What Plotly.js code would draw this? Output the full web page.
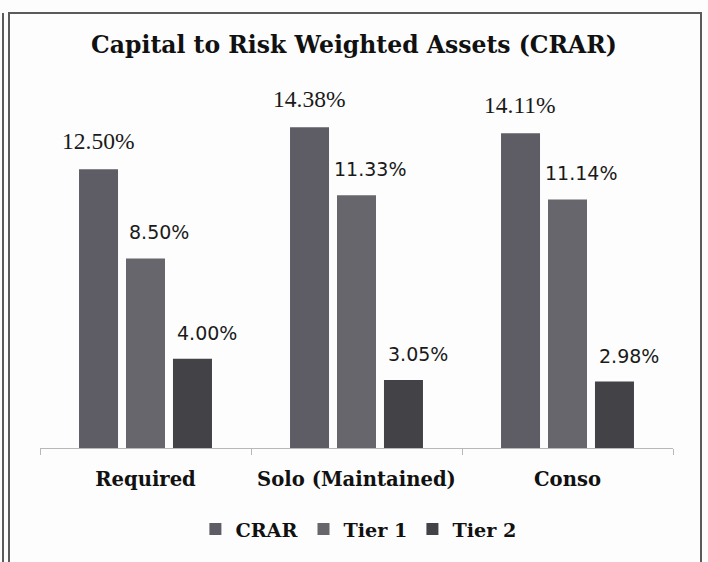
<!DOCTYPE html>
<html>
<head>
<meta charset="utf-8">
<script src="https://cdn.plot.ly/plotly-3.0.1.min.js"></script>
<style>
  html, body { margin: 0; padding: 0; background: #fdfdfd; }
  #wrap { position: relative; width: 708px; height: 562px; overflow: hidden; }
  #chart { position: absolute; left: 0; top: 0; width: 708px; height: 562px; }
  .rule { position: absolute; background: #5b5b5b; pointer-events: none; }
</style>
</head>
<body>
<div id="wrap">
  <div id="chart"></div>
  <!-- scanned frame around the chart -->
  <div class="rule" style="left:2px;top:13px;width:2px;height:549px"></div>
  <div class="rule" style="left:8px;top:13px;width:2px;height:549px"></div>
  <div class="rule" style="left:8px;top:12px;width:694px;height:2px"></div>
  <div class="rule" style="left:700px;top:12px;width:2px;height:550px"></div>
</div>
<script>
// CRAR by basis
const categories = ['Required', 'Solo (Maintained)', 'Conso'];
const crar = [12.50, 14.38, 14.11];
const tier1 = [8.50, 11.33, 11.14];
const tier2 = [4.00, 3.05, 2.98];
const seriesNames = ['CRAR', 'Tier 1', 'Tier 2'];

const COLORS = ['#5e5d66', '#66666c', '#434347'];
const SERIF_BOLD = { family: 'DejaVu Serif', weight: 'bold', color: '#111' };
const LABEL_FONTS = [
  { family: 'Liberation Serif', size: 23.5, color: '#1a1a1a' },
  { family: 'DejaVu Sans', size: 19, color: '#1a1a1a' },
  { family: 'DejaVu Sans', size: 19, color: '#1a1a1a' },
];
// horizontal offset of each series' label from the category centre
// (tier labels sit a little right of their bars in the original)
const LABEL_SHIFT = [-48, 13, 61];

const series = [crar, tier1, tier2];

const traces = series.map((values, i) => ({
  type: 'bar',
  name: seriesNames[i],
  x: categories,
  y: values,
  marker: { color: COLORS[i] },
  hoverinfo: 'none',
}));

const annotations = [];
series.forEach((values, i) => {
  values.forEach((v, j) => {
    annotations.push({
      x: categories[j],
      y: v,
      xref: 'x',
      yref: 'y',
      text: v.toFixed(2) + '%',
      showarrow: false,
      xshift: LABEL_SHIFT[i],
      yanchor: 'bottom',
      yshift: 13,
      font: LABEL_FONTS[i],
    });
  });
});

const layout = {
  width: 708,
  height: 562,
  autosize: false,
  margin: { l: 40, r: 35, t: 100, b: 114 },
  paper_bgcolor: '#fdfdfd',
  plot_bgcolor: '#fdfdfd',
  title: {
    text: 'Capital to Risk Weighted Assets (CRAR)',
    font: { ...SERIF_BOLD, size: 23.5 },
    x: 0.5,
    xanchor: 'center',
    y: 1 - 45 / 562,
    yanchor: 'middle',
  },
  barmode: 'group',
  bargap: 0.332,
  bargroupgap: 0.17,
  xaxis: {
    type: 'category',
    showline: true,
    linecolor: '#b8b8b8',
    linewidth: 1,
    ticks: 'outside',
    ticklen: 6,
    tickcolor: '#b8b8b8',
    tickson: 'boundaries',
    tickfont: { ...SERIF_BOLD, size: 19.6 },
    ticklabelstandoff: 13,
    showgrid: false,
    zeroline: false,
  },
  yaxis: { visible: false, range: [0, 15.6] },
  showlegend: true,
  legend: {
    orientation: 'h',
    x: 0.503,
    xanchor: 'center',
    y: -0.233,
    yanchor: 'middle',
    font: { ...SERIF_BOLD, size: 19.2 },
    traceorder: 'normal',
    bgcolor: 'rgba(0,0,0,0)',
  },
  annotations,
};

Plotly.newPlot('chart', traces, layout, { staticPlot: true, displayModeBar: false });
</script>
</body>
</html>
